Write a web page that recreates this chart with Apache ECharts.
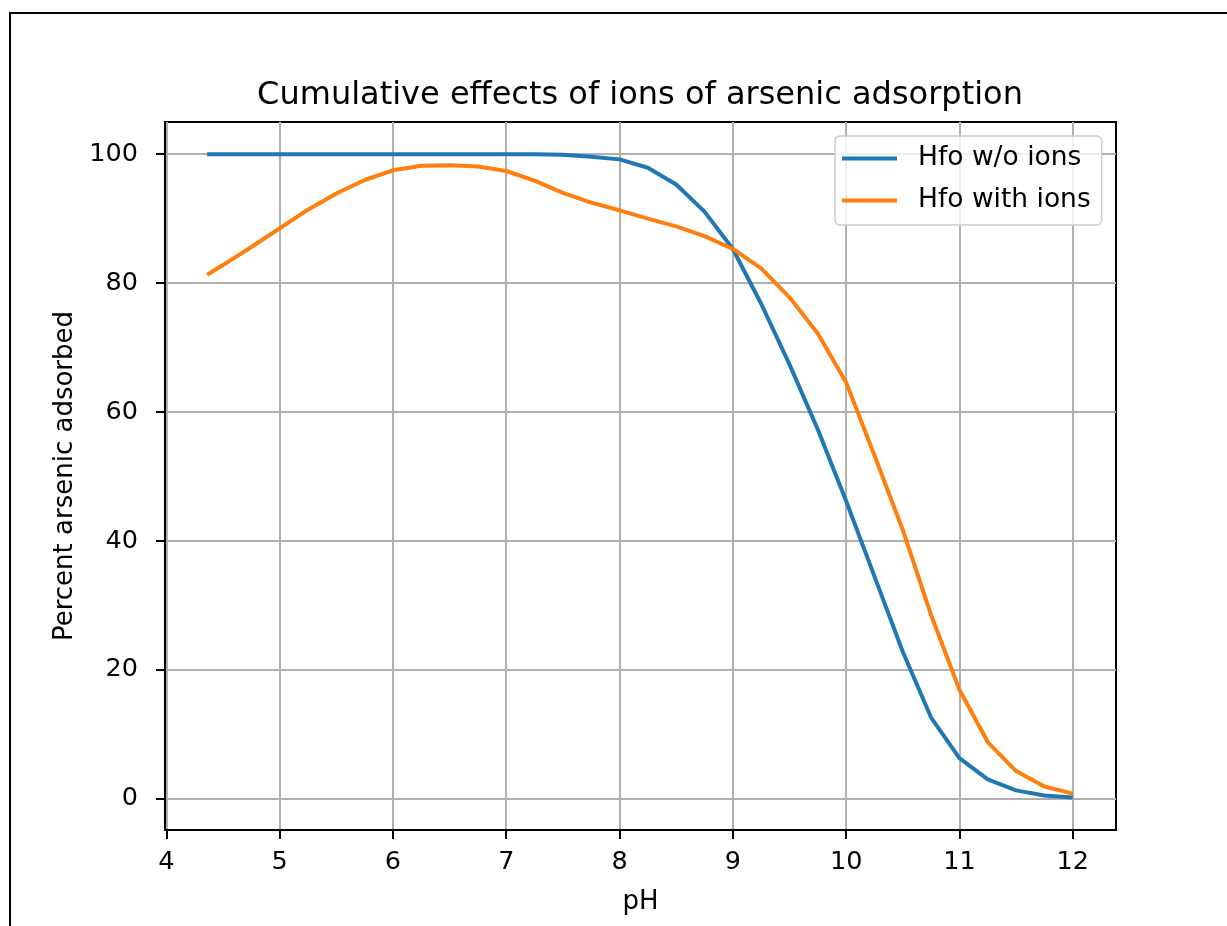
<!DOCTYPE html>
<html>
<head>
<meta charset="utf-8">
<script src="https://cdn.jsdelivr.net/npm/echarts@6/dist/echarts.min.js"></script>
<style>
html,body{margin:0;padding:0;background:#fff;}
#chart{width:1227px;height:926px;}
</style>
</head>
<body>
<div id="chart"></div>
<script>
const TITLE = 'Cumulative effects of ions of arsenic adsorption';
const X_LABEL = 'pH';
const Y_LABEL = 'Percent arsenic adsorbed';
const SERIES_NAMES = ['Hfo w/o ions', 'Hfo with ions'];
const PH = [4.36, 4.5, 4.75, 5, 5.25, 5.5, 5.75, 6, 6.25, 6.5, 6.75, 7, 7.25, 7.5, 7.75, 8,
            8.25, 8.5, 8.75, 9, 9.25, 9.5, 9.75, 10, 10.25, 10.5, 10.75, 11, 11.25, 11.5, 11.75, 12];
const HFO_WO_IONS = [100, 100, 100, 100, 100, 100, 100, 100, 100, 100, 100, 100, 100, 99.9, 99.6, 99.2,
                     97.9, 95.3, 91.1, 85.3, 76.8, 67.4, 57.3, 46.2, 34.5, 22.8, 12.6, 6.3, 3.0, 1.3, 0.5, 0.2];
const HFO_WITH_IONS = [81.3, 82.8, 85.6, 88.5, 91.4, 93.9, 96.0, 97.5, 98.2, 98.3, 98.1, 97.4, 95.9, 94.0, 92.5, 91.3,
                       90.0, 88.8, 87.3, 85.3, 82.3, 77.8, 72.2, 64.6, 53.3, 41.7, 28.5, 16.9, 8.8, 4.3, 1.9, 0.8];
const X_TICKS = [4, 5, 6, 7, 8, 9, 10, 11, 12];
const Y_TICKS = [0, 20, 40, 60, 80, 100];

const FONT = 'DejaVu Sans';
const chart = echarts.init(document.getElementById('chart'), null, {renderer: 'canvas'});
const zip = (xs, ys) => xs.map((x, i) => [x, ys[i]]);

chart.setOption({
  animation: false,
  backgroundColor: '#ffffff',
  title: {
    text: TITLE,
    left: 640, top: 80, padding: 0,
    textAlign: 'center',
    textStyle: {fontFamily: FONT, fontSize: 32, fontWeight: 'normal', color: '#000'}
  },
  grid: {
    left: 165, right: 111, top: 122, bottom: 96,
    show: true, borderColor: '#000', borderWidth: 2, backgroundColor: 'transparent'
  },
  legend: {
    orient: 'vertical',
    left: 835, top: 136,
    padding: [9, 11, 11, 7],
    itemGap: 15,
    itemWidth: 55, itemHeight: 4,
    icon: 'rect',
    backgroundColor: 'rgba(255,255,255,0.8)',
    borderColor: '#cccccc', borderWidth: 1.5, borderRadius: 5,
    textStyle: {fontFamily: FONT, fontSize: 26.5, color: '#000', padding: [0, 0, 0, 16]},
    data: SERIES_NAMES
  },
  xAxis: {
    type: 'value',
    min: 3.988, max: 12.382,
    splitNumber: 8,
    name: X_LABEL,
    nameLocation: 'middle',
    nameGap: 59,
    nameTextStyle: {fontFamily: FONT, fontSize: 26, color: '#000'},
    axisLine: {show: true, onZero: false, lineStyle: {color: '#000', width: 2}},
    axisTick: {show: true, length: 9, lineStyle: {color: '#000', width: 2}, customValues: X_TICKS},
    axisLabel: {margin: 19, fontFamily: FONT, fontSize: 25.5, color: '#000', customValues: X_TICKS,
                formatter: v => String(v)},
    splitLine: {show: true, lineStyle: {color: '#b0b0b0', width: 2}}
  },
  yAxis: {
    type: 'value',
    min: -4.85, max: 105,
    name: Y_LABEL,
    nameLocation: 'middle',
    nameGap: 80,
    nameTextStyle: {fontFamily: FONT, fontSize: 26, color: '#000'},
    axisLine: {show: true, onZero: false, lineStyle: {color: '#000', width: 2}},
    axisTick: {show: true, length: 9, lineStyle: {color: '#000', width: 2}, customValues: Y_TICKS},
    axisLabel: {margin: 27, fontFamily: FONT, fontSize: 25.5, color: '#000', customValues: Y_TICKS,
                formatter: v => String(v)},
    splitLine: {show: true, lineStyle: {color: '#b0b0b0', width: 2}}
  },
  series: [
    {
      name: SERIES_NAMES[0], type: 'line', data: zip(PH, HFO_WO_IONS),
      symbol: 'none', showSymbol: false,
      lineStyle: {color: '#1f77b4', width: 4}, itemStyle: {color: '#1f77b4'}
    },
    {
      name: SERIES_NAMES[1], type: 'line', data: zip(PH, HFO_WITH_IONS),
      symbol: 'none', showSymbol: false,
      lineStyle: {color: '#ff7f0e', width: 4}, itemStyle: {color: '#ff7f0e'}
    }
  ],
  graphic: [{
    type: 'polyline',
    silent: true,
    shape: {points: [[10, 926], [10, 13], [1227, 13]]},
    style: {stroke: '#000', lineWidth: 2, fill: null}
  }]
});
</script>
</body>
</html>
